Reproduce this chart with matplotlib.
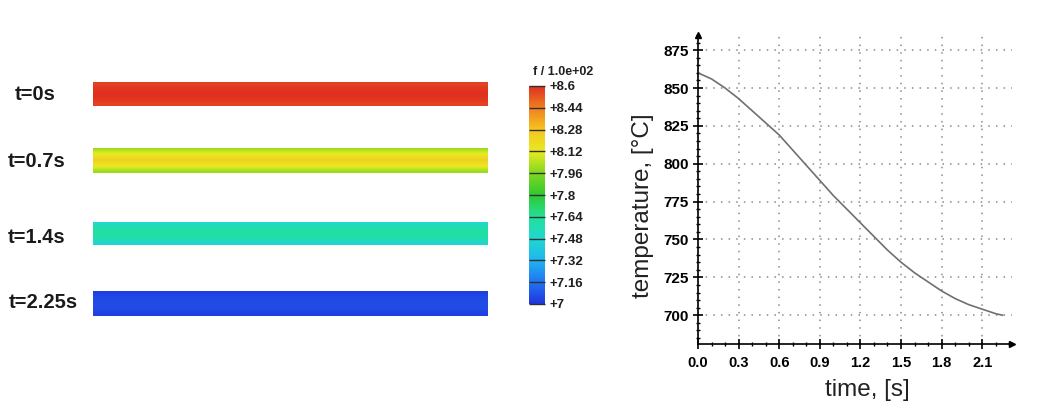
import numpy as np
import matplotlib
matplotlib.use("Agg")
import matplotlib.pyplot as plt
from matplotlib.colors import LinearSegmentedColormap, Normalize
from matplotlib.ticker import MultipleLocator

plt.rcParams['font.family'] = ['Liberation Sans', 'DejaVu Sans']

# ---------------- data ----------------
strip_labels = ["t=0s", "t=0.7s", "t=1.4s", "t=2.25s"]
# temperature profiles across the strip thickness (in units of 100 degC), top -> bottom
profile_t0 = [8.56, 8.59, 8.60, 8.59, 8.56]
profile_t07 = [8.00, 8.10, 8.17, 8.22, 8.17, 8.10, 8.00]
profile_t14 = [7.47, 7.56, 7.60, 7.61, 7.60, 7.56, 7.47]
profile_t225 = [7.03, 7.05, 7.06, 7.06, 7.05, 7.03]

cbar_ticks = [8.6, 8.44, 8.28, 8.12, 7.96, 7.8, 7.64, 7.48, 7.32, 7.16, 7.0]
cbar_ticklabels = ["+8.6", "+8.44", "+8.28", "+8.12", "+7.96", "+7.8",
                   "+7.64", "+7.48", "+7.32", "+7.16", "+7"]
cbar_title = "f / 1.0e+02"

time_s = [0.0, 0.1, 0.2, 0.3, 0.4, 0.5, 0.6, 0.7, 0.8, 0.9, 1.0, 1.1, 1.2,
          1.3, 1.4, 1.5, 1.6, 1.7, 1.8, 1.9, 2.0, 2.1, 2.2, 2.25]
temp_c = [860, 856, 850, 843, 835, 827, 819, 809, 799, 789, 779, 770, 761,
          752, 743, 735, 728, 722, 716, 711, 707, 704, 701, 700]
x_ticks = [0.0, 0.3, 0.6, 0.9, 1.2, 1.5, 1.8, 2.1]
y_ticks = [700, 725, 750, 775, 800, 825, 850, 875]

# ---------------- colormap ----------------
cmap_colors = ["#2035e0", "#2075f0", "#20b5f0", "#20d8d0", "#22e098",
               "#30c830", "#80d820", "#e8ea20", "#f5c520", "#f08020", "#e03020"]
cmap = LinearSegmentedColormap.from_list("rainbow_fe", cmap_colors)
norm = Normalize(vmin=7.0, vmax=8.6)

W, H = 1055, 408
fig = plt.figure(figsize=(W / 100, H / 100), dpi=100)


def px_rect(x0, y0, x1, y1):
    return [x0 / W, 1 - y1 / H, (x1 - x0) / W, (y1 - y0) / H]


# ---------------- strips ----------------
strip_rows = [(82, 106), (148, 173), (222, 245), (291, 316)]
label_pos = [(15, 95), (8, 162), (8, 237), (9, 303)]
profiles = [profile_t0, profile_t07, profile_t14, profile_t225]
for lab, (y0, y1), (lx, ly), prof in zip(strip_labels, strip_rows, label_pos, profiles):
    a = fig.add_axes(px_rect(93, y0, 488, y1))
    arr = np.array(prof)[:, None] * np.ones((1, 40))
    a.imshow(arr, cmap=cmap, norm=norm, aspect='auto', interpolation='bilinear')
    a.set_axis_off()
    fig.text(lx / W, 1 - ly / H, lab, ha='left', va='center',
             fontsize=14.5, fontweight='bold', color='#1a1a1a')

# ---------------- colorbar ----------------
cax = fig.add_axes(px_rect(529, 86, 545, 304))
sm = plt.cm.ScalarMappable(norm=norm, cmap=cmap)
cb = fig.colorbar(sm, cax=cax, orientation='vertical')
cb.outline.set_visible(False)
cb.set_ticks(cbar_ticks)
cb.set_ticklabels(cbar_ticklabels)
cax.tick_params(direction='in', length=11.5, width=1.0, color='#303030',
                pad=3, labelsize=9.5, labelcolor='#202020')
for t in cax.get_yticklabels():
    t.set_fontweight('bold')
fig.text(563 / W, 1 - 72 / H, cbar_title, ha='center', va='center',
         fontsize=9, fontweight='bold', color='#202020')

# ---------------- temperature curve ----------------
ax = fig.add_axes(px_rect(698, 35, 1012, 344))
ax.plot(time_s, temp_c, color='#707070', lw=1.2)
ax.set_xlim(0, 2.32)
ax.set_ylim(681, 885)
ax.set_xticks(x_ticks)
ax.set_yticks(y_ticks)
ax.set_xticklabels([f"{v:.1f}" for v in x_ticks])
ax.xaxis.set_minor_locator(MultipleLocator(0.1))
ax.yaxis.set_minor_locator(MultipleLocator(5))
ax.grid(True, which='major', linestyle=(0, (1, 4)), color='#8a8a8a', lw=1.1)
for s in ['top', 'right']:
    ax.spines[s].set_visible(False)
for s in ['left', 'bottom']:
    ax.spines[s].set_linewidth(1.2)
ax.tick_params(which='major', direction='inout', length=7, width=1.2, pad=3)
ax.tick_params(axis='x', which='major', labelsize=10.5, pad=5)
ax.tick_params(axis='y', which='major', labelsize=11)
ax.tick_params(which='minor', direction='inout', length=3.5, width=1.0)
for t in ax.get_xticklabels() + ax.get_yticklabels():
    t.set_fontweight('bold')
ax.plot(1, 0, '>k', transform=ax.transAxes, clip_on=False, markersize=4)
ax.plot(0, 1, '^k', transform=ax.transAxes, clip_on=False, markersize=4)

fig.text(643 / W, 1 - 206 / H, "temperature, [°C]", rotation=90, ha='center',
         va='center', fontsize=17.5, color='#222222')
fig.text(867 / W, 1 - 390 / H, "time, [s]", ha='center', va='center',
         fontsize=17.5, color='#222222')

fig.savefig("out.png", dpi=100)
